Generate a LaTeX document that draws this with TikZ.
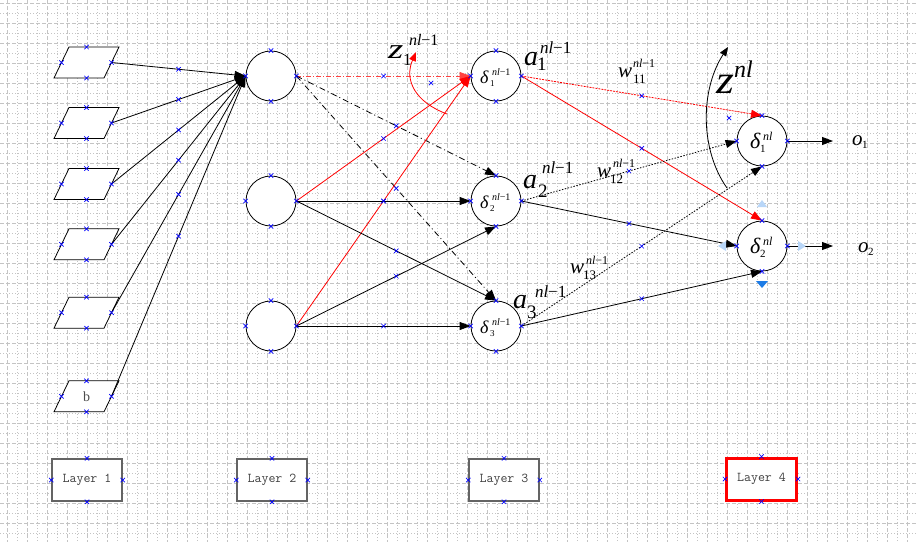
\documentclass[tikz,border=0pt]{standalone}
\usepackage{fontspec}
\setmainfont{Liberation Serif}
\usetikzlibrary{arrows.meta,calc}
\definecolor{gridc}{RGB}{196,196,196}
\definecolor{selL}{RGB}{184,214,248}
\definecolor{selD}{RGB}{30,124,230}
\definecolor{boxc}{RGB}{100,100,100}
\tikzset{
  xx/.pic={\draw[blue,line width=0.7pt] (-2.2,-2.2)--(2.2,2.2) (-2.2,2.2)--(2.2,-2.2);},
  neuron/.style={circle,draw,fill=white,minimum size=50pt,inner sep=0pt,line width=0.8pt},
  para/.style={draw,fill=white,line width=0.8pt},
  arr/.style={line width=0.8pt,-{Triangle[length=11pt,width=8pt]}},
  rdd/.style={red!75,dash pattern=on 5pt off 2pt on 1pt off 2pt},
  bdd/.style={dash pattern=on 6pt off 3pt on 1pt off 3pt},
  rdot/.style={red,dash pattern=on 2pt off 1pt},
  bdot/.style={dash pattern=on 1.5pt off 1.5pt},
  layerbox/.style={draw=boxc,line width=1.5pt,fill=white,minimum width=70pt,minimum height=42pt,
    inner sep=0pt,text=black!75,font={\ttfamily\fontsize{13.5}{15}\selectfont}},
  lbl/.style={anchor=base west,inner sep=0pt,outer sep=0pt},
  f/.style={font=\fontsize{#1}{#1}\selectfont},
  gdash/.style={gridc,line width=0.7pt,dash pattern=on 4pt off 2pt},
  gdot/.style={gridc,line width=0.7pt,dash pattern=on 1pt off 2pt},
}
\newcommand\conn[3][]{\draw[#1] (#2) -- (#3); \pic at ($(#2)!.5!(#3)$) {xx};}
\begin{document}
\begin{tikzpicture}[x=1pt,y=-1pt]
\useasboundingbox (0,0) rectangle (917,542);
\fill[white] (0,0) rectangle (917,542);
% grid
\foreach \x in {7.5,27.5,...,917} \draw[gdash] (\x,0) -- (\x,542);
\foreach \x in {17.5,37.5,...,917} \draw[gdot] (\x,0) -- (\x,542);
\foreach \y in {3.5,23.5,...,542} \draw[gdash] (0,\y) -- (917,\y);
\foreach \y in {13.5,33.5,...,542} \draw[gdot] (0,\y) -- (917,\y);

% layer 2,3,4 neurons
\node[neuron] (c1) at (271,76) {};
\node[neuron] (c2) at (271,201) {};
\node[neuron] (c3) at (271,326) {};
\node[neuron] (d1) at (496,76) {};
\node[neuron] (d2) at (496,201) {};
\node[neuron] (d3) at (496,326) {};
\node[neuron] (e1) at (762,141) {};
\node[neuron] (e2) at (762,246) {};

% layer 1 inputs (parallelograms)
\foreach \i/\y in {1/62.5,2/123,3/184,4/244.3,5/312.7,6/396.3} {
  \draw[para] (69,{\y-15.5}) -- (119,{\y-15.5}) -- (104,{\y+15.5}) -- (54,{\y+15.5}) -- cycle;
  \coordinate (p\i) at (111.5,\y);
  \conn[arr]{p\i}{c1.west}
  \pic at (61.5,\y) {xx};
  \pic at (111.5,\y) {xx};
  \pic at (86.5,{\y-15.5}) {xx};
  \pic at (86.5,{\y+15.5}) {xx};
}
\node[f=14,text=black!70,inner sep=0pt] (bias) at (86.5,396.3) {b};

% layer 2 -> layer 3
\conn[arr,rdd]{c1.east}{d1.west}
\conn[arr,bdd]{c1.east}{d2.north}
\conn[arr,bdd]{c1.east}{d3.north}
\conn[arr,red]{c2.east}{d1.west}
\conn[arr,red]{c3.east}{d1.west}
\conn[arr]{c2.east}{d2.west}
\conn[arr]{c2.east}{d3.north}
\conn[arr]{c3.east}{d2.south}
\conn[arr]{c3.east}{d3.west}
% layer 3 -> layer 4
\conn[arr,rdot]{d1.east}{e1.north}
\conn[arr,red]{d1.east}{e2.north}
\conn[arr,bdot]{d2.east}{e1.west}
\conn[arr]{d2.east}{e2.west}
\conn[arr,bdot]{d3.east}{e1.south}
\conn[arr]{d3.east}{e2.south}
% outputs
\coordinate (o1a) at (833,141);
\coordinate (o2a) at (833,246);
\draw[arr] (e1.east) -- (o1a);
\draw[arr] (e2.east) -- (o2a);

% curved arrows
\coordinate (zs) at (447,114);
\coordinate (zt) at (416,52);
\draw[red,line width=0.8pt,-{Triangle[length=9pt,width=7pt]}] (zs) .. controls (415,102) and (404,80) .. (zt);
\pic at (431,83) {xx};
\coordinate (Zs) at (727,188);
\coordinate (Zt) at (728,47);
\draw[line width=0.8pt,-{Triangle[length=9pt,width=7pt]}] (Zs) .. controls (700,150) and (700,90) .. (Zt);
\pic at (729,118) {xx};

% selection handles
\fill[selL] (757,207) -- (767,207) -- (762,200) -- cycle;
\fill[selL] (726,241) -- (726,251) -- (718,246) -- cycle;
\fill[selL] (798,241) -- (798,251) -- (806,246) -- cycle;
\fill[selD] (756,281) -- (768,281) -- (762,288) -- cycle;

% crosses on neurons
\foreach \n in {c1,c2,c3,d1,d2,d3,e1,e2}
  \foreach \a in {north,south,east,west} \pic at (\n.\a) {xx};

% deltas
\foreach \n/\s in {d1/1,d2/2,d3/3} {
  \node[lbl,f=18] (\n-b) at ($(\n)+(-16,7)$) {\itshape δ};
  \node[lbl,f=9] (\n-s) at ($(\n)+(-6,10)$) {\s};
  \node[lbl,f=10] (\n-p) at ($(\n)+(-4,-1)$) {\itshape nl\upshape −1};
}
\foreach \n/\s in {e1/1,e2/2} {
  \node[lbl,f=22] (\n-b) at ($(\n)+(-12,7)$) {\itshape δ};
  \node[lbl,f=11] (\n-s) at ($(\n)+(-2,11)$) {\s};
  \node[lbl,f=12] (\n-p) at ($(\n)+(1,-1)$) {\itshape nl};
}

% labels
\node[lbl,f=28,xscale=1.4] (z1b) at (388,58) {\itshape z};
\node[lbl,f=17] (z1s) at (403,65) {1};
\node[lbl,f=16] (z1p) at (409,45) {\itshape nl\upshape −1};

\node[lbl,f=28] (a1b) at (524,65) {\itshape a};
\node[lbl,f=19] (a1s) at (537,70) {1};
\node[lbl,f=17] (a1p) at (540,53) {\itshape nl\upshape −1};

\node[lbl,f=28] (a2b) at (523,188) {\itshape a};
\node[lbl,f=19] (a2s) at (538,197) {2};
\node[lbl,f=17] (a2p) at (542,173) {\itshape nl\upshape −1};

\node[lbl,f=28] (a3b) at (513,308) {\itshape a};
\node[lbl,f=19] (a3s) at (527,318) {3};
\node[lbl,f=17] (a3p) at (535,297) {\itshape nl\upshape −1};

\node[lbl,f=21] (w1b) at (618,77) {\itshape w};
\node[lbl,f=13] (w1s) at (633,83) {11};
\node[lbl,f=12] (w1p) at (633,67) {\itshape nl\upshape −1};

\node[lbl,f=21] (w2b) at (597,177) {\itshape w};
\node[lbl,f=13] (w2s) at (610,183) {12};
\node[lbl,f=12] (w2p) at (613,167) {\itshape nl\upshape −1};

\node[lbl,f=21] (w3b) at (570,273) {\itshape w};
\node[lbl,f=13] (w3s) at (583,279) {13};
\node[lbl,f=12] (w3p) at (586,264) {\itshape nl\upshape −1};

\node[lbl,f=40,xscale=1.15] (znb) at (716,93) {\itshape z};
\node[lbl,f=24] (znp) at (734,77) {\itshape nl};

\node[lbl,f=21] (o1b) at (852,145) {\itshape o};
\node[lbl,f=11] (o1s) at (862,148) {1};
\node[lbl,f=21] (o2b) at (858,252) {\itshape o};
\node[lbl,f=11] (o2s) at (868,255) {2};

% layer boxes
\node[layerbox] (L1) at (87,480) {Layer 1};
\node[layerbox] (L2) at (272,480) {Layer 2};
\node[layerbox] (L3) at (504,480) {Layer 3};
\node[layerbox,draw=red,line width=3pt] (L4) at (761.5,479) {Layer 4};
\foreach \n in {L1,L2,L3,L4}
  \foreach \a in {north,south,east,west} \pic at (\n.\a) {xx};
\end{tikzpicture}
\end{document}
